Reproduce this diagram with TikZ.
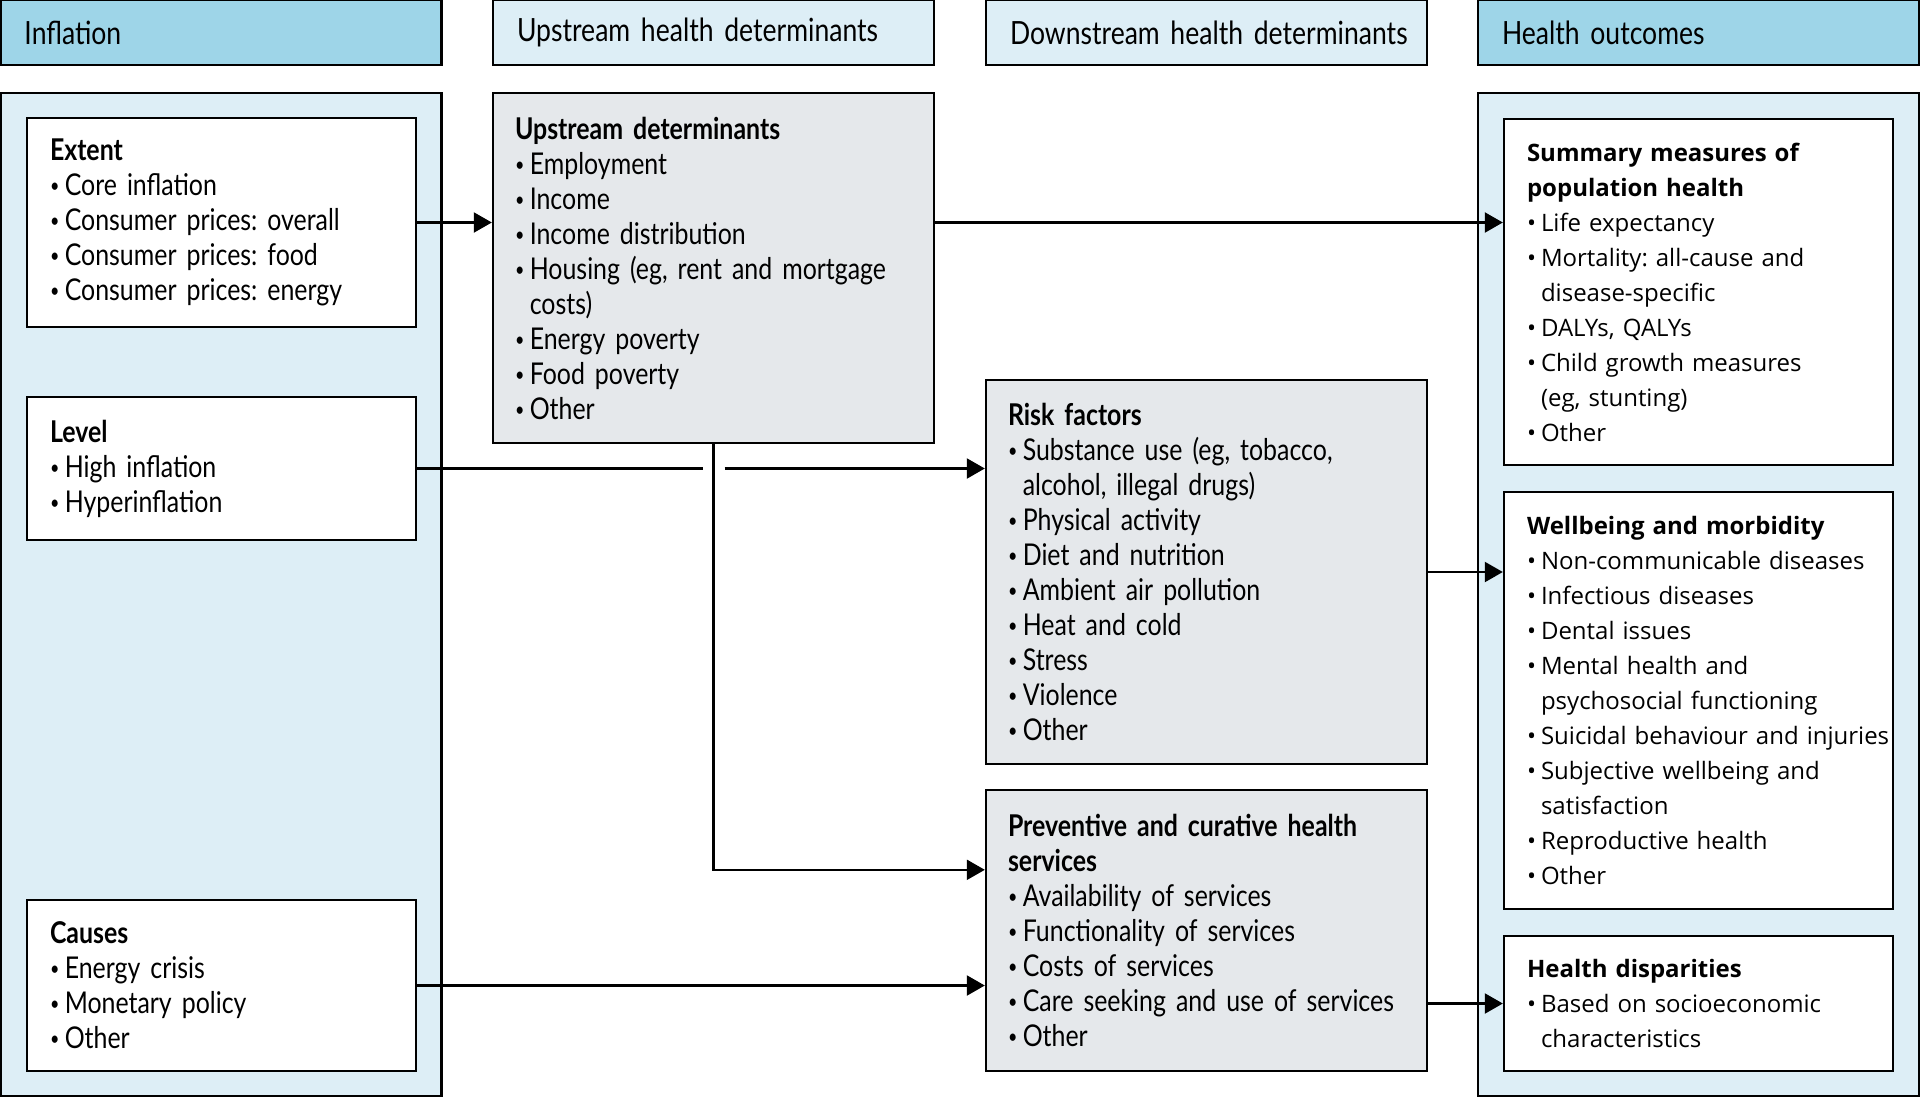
\documentclass[tikz,border=0pt]{standalone}
\usepackage{fontspec}
\usepackage{tikz}
\usetikzlibrary{arrows.meta,calc}

\newfontfamily\condfont{Lato}[FakeStretch=0.83, WordSpace=0.6]
\newfontfamily\widefont{Open Sans}
\definecolor{hdrblue}{HTML}{9ED5E8}
\definecolor{paleblue}{HTML}{DDEEF6}
\definecolor{boxgray}{HTML}{E5E8EB}
\newcommand{\bul}{\makebox[7.4pt][l]{\raisebox{0.1em}{\scalebox{0.65}{\textbullet}}}}
\newcommand{\bulw}{\makebox[7pt][l]{\textbullet}}
\newcommand{\cnt}{\hspace*{7.4pt}}
\newcommand{\cntw}{\hspace*{7pt}}
\frenchspacing

\begin{document}
\begin{tikzpicture}[x=0.5pt, y=-0.5pt]
    % Styles
    \tikzstyle{header} = [draw=black, line width=1.2pt, minimum width=220.5pt, minimum height=32.5pt, inner xsep=12pt, text width=196.5pt, align=left, font=\condfont\fontsize{16}{17.5}\selectfont]
    \tikzstyle{panel} = [draw=black, line width=1.2pt, fill=paleblue, minimum width=220.5pt, minimum height=501.5pt]
    \tikzstyle{whitebox} = [draw=black, line width=1.2pt, fill=white, minimum width=194.5pt, inner xsep=11.5pt, text width=171.5pt, align=left]
    \tikzstyle{greybox} = [draw=black, line width=1.2pt, fill=boxgray, minimum width=220.5pt, inner xsep=11pt, text width=198.5pt, align=left, font=\condfont\fontsize{15}{17.5}\selectfont]
    \tikzstyle{arrow} = [-{Triangle[length=9pt, width=10pt]}, line width=1.1pt]

    \useasboundingbox (0,0) rectangle (1920,1098);

    % Column headers
    \node[header, fill=hdrblue] (hInfl) at (221,32.5) {Inflation};
    \node[header, fill=paleblue] (hUp) at (713.5,32.5) {\mbox{Upstream health determinants}};
    \node[header, fill=paleblue] (hDown) at (1206.5,32.5) {\mbox{Downstream health determinants}};
    \node[header, fill=hdrblue] (hOut) at (1698.5,32.5) {Health outcomes};

    % Panels
    \node[panel] (pInfl) at (221,594.5) {};
    \node[panel] (pOut) at (1698.5,594.5) {};

    % Inflation boxes
    \node[whitebox, minimum height=104.5pt, font=\condfont\fontsize{15}{17.5}\selectfont] (extent) at (221.5,222.5)
        {\textbf{Extent}\\ \bul Core inflation\\ \bul Consumer prices: overall\\ \bul Consumer prices: food\\ \bul Consumer prices: energy};
    \node[whitebox, minimum height=71.5pt, font=\condfont\fontsize{15}{17.5}\selectfont] (level) at (221.5,468.5)
        {\textbf{Level}\\ \bul High inflation\\ \bul Hyperinflation};
    \node[whitebox, minimum height=85.5pt, font=\condfont\fontsize{15}{17.5}\selectfont] (causes) at (221.5,985.5)
        {\textbf{Causes}\\ \bul Energy crisis\\ \bul Monetary policy\\ \bul Other};

    % Determinants
    \node[greybox, minimum height=175pt] (upstream) at (713.5,268)
        {\textbf{Upstream determinants}\\ \bul Employment\\ \bul Income\\ \bul Income distribution\\ \bul Housing (eg, rent and mortgage\\ \cnt costs)\\ \bul Energy poverty\\ \bul Food poverty\\ \bul Other};
    \node[greybox, minimum height=192pt] (risk) at (1206.5,572)
        {\textbf{Risk factors}\\ \bul Substance use (eg, tobacco,\\ \cnt alcohol, illegal drugs)\\ \bul Physical activity\\ \bul Diet and nutrition\\ \bul Ambient air pollution\\ \bul Heat and cold\\ \bul Stress\\ \bul Violence\\ \bul Other};
    \node[greybox, minimum height=140.5pt] (prevent) at (1206.5,930.5)
        {\textbf{Preventive and curative health}\\ \textbf{services}\\ \bul Availability of services\\ \bul Functionality of services\\ \bul Costs of services\\ \bul \mbox{Care seeking and use of services}\\ \bul Other};

    % Outcomes
    \node[whitebox, minimum height=173pt, font=\widefont\fontsize{12}{17.5}\selectfont] (summary) at (1698.5,292)
        {\textbf{Summary measures of}\\ \textbf{population health}\\ \bulw Life expectancy\\ \bulw Mortality: all-cause and\\ \cntw disease-specific\\ \bulw DALYs, QALYs\\ \bulw Child growth measures\\ \cntw (eg, stunting)\\ \bulw Other};
    \node[whitebox, minimum height=208.5pt, font=\widefont\fontsize{12}{17.5}\selectfont] (wellbeing) at (1698.5,700.5)
        {\textbf{Wellbeing and morbidity}\\ \bulw \mbox{Non-communicable diseases}\\ \bulw Infectious diseases\\ \bulw Dental issues\\ \bulw Mental health and\\ \cntw psychosocial functioning\\ \bulw \mbox{Suicidal behaviour and injuries}\\ \bulw Subjective wellbeing and\\ \cntw satisfaction\\ \bulw Reproductive health\\ \bulw Other};
    \node[whitebox, minimum height=67.5pt, font=\widefont\fontsize{12}{17.5}\selectfont] (dispar) at (1698.5,1003.5)
        {\textbf{Health disparities}\\ \bulw Based on socioeconomic\\ \cntw characteristics};

    % Arrows
    \draw[arrow] (extent.east) -- (upstream.west |- extent.east);
    \draw[arrow] (upstream.east |- extent.east) -- (summary.west |- extent.east);
    \draw[line width=1.1pt] (level.east) -- ($(upstream.south |- level.east)+(-11,0)$);
    \draw[arrow] ($(upstream.south |- level.east)+(11,0)$) -- (risk.west |- level.east);
    \draw[arrow] (upstream.south) |- ($(prevent.north west)+(0,81)$);
    \draw[arrow] (risk.east) -- (wellbeing.west |- risk.east);
    \draw[arrow] (causes.east) -- (prevent.west |- causes.east);
    \draw[arrow] (prevent.east |- dispar.west) -- (dispar.west);
\end{tikzpicture}
\end{document}
